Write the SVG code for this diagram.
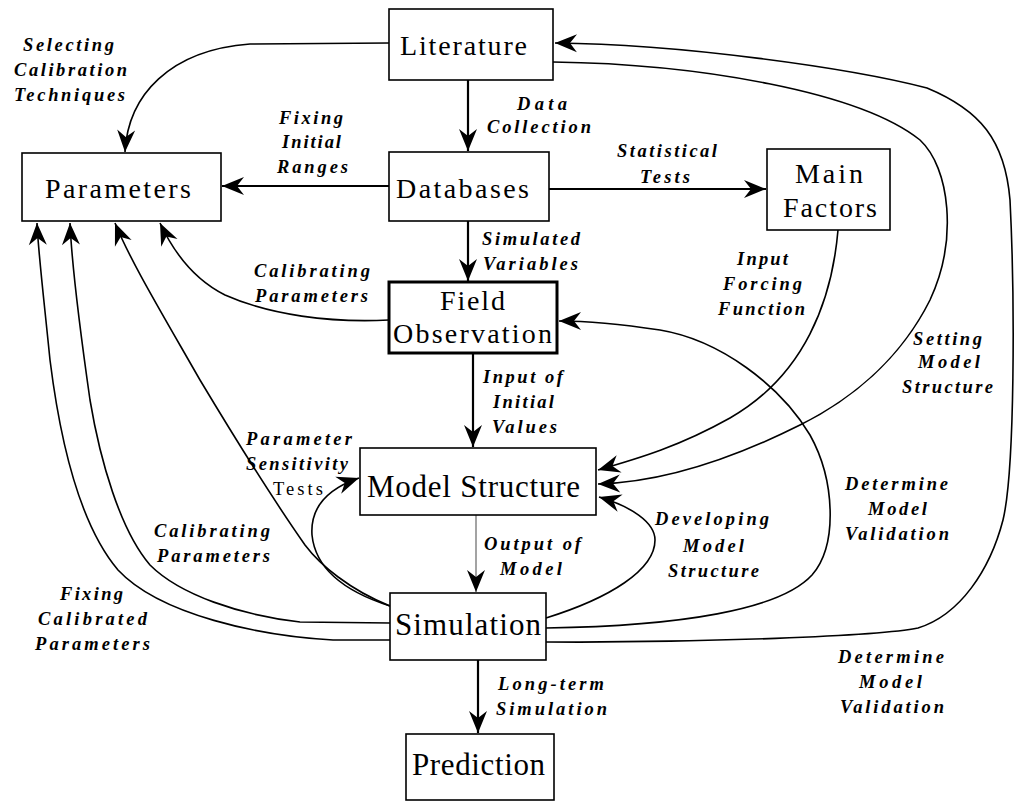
<svg xmlns="http://www.w3.org/2000/svg" width="1015" height="801" viewBox="0 0 1015 801">
<style>
.box{fill:#fff;stroke:#000;stroke-width:1.6}
.thick{stroke-width:3}
.nt{font-family:"Liberation Serif",serif;font-size:28px;fill:#000}
.nt2{font-family:"Liberation Serif",serif;font-size:31px;fill:#000}
.lb{font-family:"Liberation Serif",serif;font-size:18.5px;font-style:italic;font-weight:bold;fill:#000}
.lr{font-family:"Liberation Serif",serif;font-size:18.5px;fill:#000}
.c{fill:none;stroke:#000;stroke-width:1.6}
.s{fill:none;stroke:#000;stroke-width:2.2}
.g{fill:none;stroke:#666;stroke-width:1.2}
</style>
<defs>
<marker id="ah" viewBox="-24 -10 26 20" refX="0" refY="0" markerWidth="26" markerHeight="20" markerUnits="userSpaceOnUse" orient="auto">
<path d="M0,0 L-22,-9 L-15,0 L-22,9 Z" fill="#000"/>
</marker>
</defs>
<g id="connectors">
<path class="s" d="M468,80 L468,151" marker-end="url(#ah)"/>
<path class="c" d="M389,43 L250,44 C170,50 128,95 125,152" marker-end="url(#ah)"/>
<path class="s" d="M389,186 L222,186" marker-end="url(#ah)"/>
<path class="s" d="M549,189 L766,189" marker-end="url(#ah)"/>
<path class="s" d="M468,221 L468,281" marker-end="url(#ah)"/>
<path class="c" d="M389,320 C330,323 270,315 225,295 C195,280 175,255 160,223" marker-end="url(#ah)"/>
<path class="c" d="M838,230 C832,300 805,375 730,418 C680,446 640,458 598,470" marker-end="url(#ah)"/>
<path class="c" d="M553,62 C700,64 860,92 920,140 C950,168 958,240 930,300 C900,360 850,400 800,425 C740,455 670,482 598,484" marker-end="url(#ah)"/>
<path class="s" d="M473,353 L473,447" marker-end="url(#ah)"/>
<path class="g" d="M476,515 L476,592" marker-end="url(#ah)"/>
<path class="s" d="M478,660 L478,733" marker-end="url(#ah)"/>
<path class="c" d="M546,618 C610,598 655,570 655,540 C655,522 630,506 599,497" marker-end="url(#ah)"/>
<path class="c" d="M546,628 C680,626 780,610 812,575 C838,545 835,480 810,435 C780,385 720,340 660,330 C620,324 590,321 559,321" marker-end="url(#ah)"/>
<path class="c" d="M546,642 C700,643 880,636 918,628 C960,615 990,570 1003,520 C1015,470 1015,300 1010,200 C1005,140 980,110 927,88 C850,68 680,44 555,43" marker-end="url(#ah)"/>
<path class="c" d="M390,606 C350,590 320,565 305,545 C270,495 230,430 200,380 C160,310 130,260 115,223" marker-end="url(#ah)"/>
<path class="c" d="M390,606 C340,590 315,565 312,535 C310,505 330,488 359,478" marker-end="url(#ah)"/>
<path class="c" d="M390,623 L300,622 C240,615 180,595 150,565 C120,530 100,460 90,400 C80,330 72,270 70,223" marker-end="url(#ah)"/>
<path class="c" d="M390,640 L333,640 C260,636 160,615 118,570 C80,525 60,440 50,360 C44,300 38,250 37,223" marker-end="url(#ah)"/>
</g>
<g id="literature"><rect class="box" x="389" y="9" width="164" height="71"/><text class="nt" x="400" y="55" textLength="127">Literature</text></g>
<g id="parameters"><rect class="box" x="22" y="153" width="199" height="68"/><text class="nt" x="45" y="198" textLength="146">Parameters</text></g>
<g id="databases"><rect class="box" x="389" y="152" width="160" height="69"/><text class="nt" x="396" y="198" textLength="133">Databases</text></g>
<g id="main-factors"><rect class="box" x="767" y="149" width="123" height="81"/><text class="nt" x="795" y="183" textLength="68">Main</text><text class="nt" x="783" y="217" textLength="94">Factors</text></g>
<g id="field-observation"><rect class="box thick" x="389" y="282" width="168" height="71"/><text class="nt" x="440" y="310" textLength="65">Field</text><text class="nt" x="393" y="343" textLength="159">Observation</text></g>
<g id="model-structure"><rect class="box" x="360" y="448" width="236" height="67"/><text class="nt2" x="367" y="497" textLength="213">Model Structure</text></g>
<g id="simulation"><rect class="box" x="390" y="593" width="156" height="67"/><text class="nt2" x="395" y="635" textLength="146">Simulation</text></g>
<g id="prediction"><rect class="box" x="406" y="734" width="148" height="66"/><text class="nt2" x="412" y="775" textLength="133">Prediction</text></g>
<g id="labels">
<text class="lb" x="23" y="51" textLength="91">Selecting</text>
<text class="lb" x="14" y="76" textLength="113">Calibration</text>
<text class="lb" x="14" y="101" textLength="111">Techniques</text>
<text class="lb" x="279" y="124" textLength="64">Fixing</text>
<text class="lb" x="282" y="148" textLength="59">Initial</text>
<text class="lb" x="277" y="173" textLength="71">Ranges</text>
<text class="lb" x="517" y="110" textLength="50">Data</text>
<text class="lb" x="487" y="133" textLength="104">Collection</text>
<text class="lb" x="617" y="157" textLength="100">Statistical</text>
<text class="lb" x="640" y="183" textLength="50">Tests</text>
<text class="lb" x="482" y="245" textLength="98">Simulated</text>
<text class="lb" x="483" y="270" textLength="95">Variables</text>
<text class="lb" x="254" y="277" textLength="116">Calibrating</text>
<text class="lb" x="255" y="302" textLength="113">Parameters</text>
<text class="lb" x="737" y="265" textLength="51">Input</text>
<text class="lb" x="723" y="290" textLength="79">Forcing</text>
<text class="lb" x="718" y="315" textLength="87">Function</text>
<text class="lb" x="913" y="345" textLength="69">Setting</text>
<text class="lb" x="918" y="368" textLength="62">Model</text>
<text class="lb" x="902" y="393" textLength="91">Structure</text>
<text class="lb" x="483" y="383" textLength="80">Input of</text>
<text class="lb" x="493" y="408" textLength="61">Initial</text>
<text class="lb" x="492" y="433" textLength="65">Values</text>
<text class="lb" x="246" y="445" textLength="106">Parameter</text>
<text class="lb" x="246" y="470" textLength="102">Sensitivity</text>
<text class="lr" x="273" y="495" textLength="50">Tests</text>
<text class="lb" x="845" y="490" textLength="103">Determine</text>
<text class="lb" x="868" y="515" textLength="59">Model</text>
<text class="lb" x="845" y="540" textLength="104">Validation</text>
<text class="lb" x="655" y="525" textLength="114">Developing</text>
<text class="lb" x="683" y="552" textLength="61">Model</text>
<text class="lb" x="668" y="577" textLength="91">Structure</text>
<text class="lb" x="154" y="537" textLength="116">Calibrating</text>
<text class="lb" x="157" y="562" textLength="113">Parameters</text>
<text class="lb" x="484" y="550" textLength="97">Output of</text>
<text class="lb" x="500" y="575" textLength="62">Model</text>
<text class="lb" x="60" y="600" textLength="63">Fixing</text>
<text class="lb" x="38" y="625" textLength="109">Calibrated</text>
<text class="lb" x="35" y="650" textLength="115">Parameters</text>
<text class="lb" x="838" y="663" textLength="106">Determine</text>
<text class="lb" x="859" y="688" textLength="63">Model</text>
<text class="lb" x="840" y="713" textLength="104">Validation</text>
<text class="lb" x="498" y="690" textLength="106">Long-term</text>
<text class="lb" x="496" y="715" textLength="111">Simulation</text>
</g>
</svg>
